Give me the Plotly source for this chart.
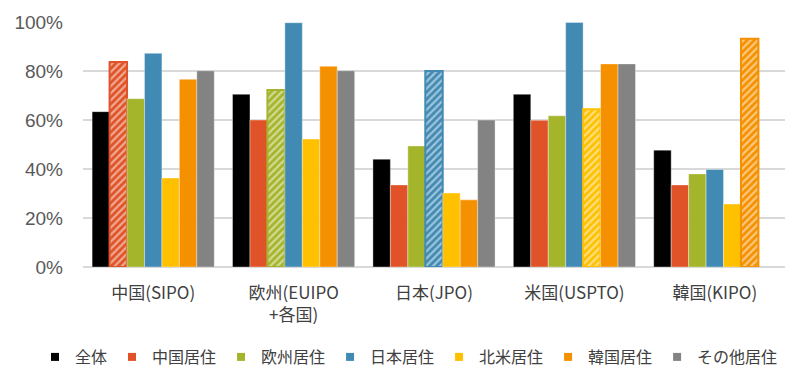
import plotly.graph_objects as go

categories = ["中国(SIPO)", "欧州(EUIPO<br>+各国)", "日本(JPO)", "米国(USPTO)", "韓国(KIPO)"]
series_names = ["全体", "中国居住", "欧州居住", "日本居住", "北米居住", "韓国居住", "その他居住"]
series_colors = ["#000000", "#E05328", "#A5B52B", "#418AB3", "#FFC000", "#F59100", "#838383"]

v_all = [63.4, 70.5, 44.0, 70.5, 47.7]
v_cn = [83.7, 60.0, 33.5, 59.9, 33.5]
v_eu = [68.7, 72.2, 49.4, 61.7, 38.0]
v_jp = [87.2, 99.7, 80.0, 99.8, 39.8]
v_na = [36.3, 52.2, 30.2, 64.4, 25.7]
v_kr = [76.6, 81.9, 27.4, 82.9, 93.2]
v_ot = [80.1, 80.1, 60.0, 82.9, None]
series_values = [v_all, v_cn, v_eu, v_jp, v_na, v_kr, v_ot]

# which office (category index) is the "home" office of each series -> hatched bar
home_office = [None, 0, 1, 2, 3, 4, None]

fig = go.Figure()
for name, color, vals, home in zip(series_names, series_colors, series_values, home_office):
    shapes = ["/" if i == home else "" for i in range(len(categories))]
    line_colors = [color if i == home else "rgba(255,255,255,0.6)" for i in range(len(categories))]
    line_widths = [2 if i == home else 0.6 for i in range(len(categories))]
    fig.add_trace(go.Bar(
        x=categories, y=vals, name=name, showlegend=False,
        marker=dict(
            color=color,
            line=dict(color=line_colors, width=line_widths),
            pattern=dict(shape=shapes, fgcolor="white", bgcolor=color, size=5, solidity=0.45),
        ),
    ))

# legend entries (solid squares)
for name, color in zip(series_names, series_colors):
    fig.add_trace(go.Scatter(
        x=[None], y=[None], mode="markers", name=name,
        marker=dict(symbol="square", size=8, color=color),
    ))

fig.update_layout(
    width=791, height=368,
    margin=dict(l=83, r=6, t=22, b=101, autoexpand=False),
    paper_bgcolor="white", plot_bgcolor="white",
    barmode="group", bargap=0.13, bargroupgap=0,
    font=dict(family="Noto Sans CJK JP, Liberation Sans, Arial", color="#404040"),
    showlegend=True,
    legend=dict(
        orientation="h", x=(35 - 83) / 702, xanchor="left",
        y=-(357 - 267) / 245, yanchor="middle",
        font=dict(size=16, color="#404040"),
        itemwidth=30, tracegroupgap=0, traceorder="normal",
        bgcolor="rgba(0,0,0,0)",
    ),
    xaxis=dict(
        showgrid=False, showline=False, ticks="", automargin=False,
        tickfont=dict(size=17, color="#404040"),
        ticklabelstandoff=14,
    ),
    yaxis=dict(
        range=[0, 100], dtick=20, ticksuffix="%", automargin=False,
        showgrid=True, gridcolor="#D9D9D9", gridwidth=1.5,
        zeroline=True, zerolinecolor="#D9D9D9", zerolinewidth=1.5,
        showline=False, ticks="",
        tickfont=dict(size=19, color="#595959", family="Liberation Sans, Arial"),
        ticklabelstandoff=19,
    ),
)

fig.write_html(
    "out.html",
    config={"displayModeBar": False},
    post_script="document.body.style.margin='0';document.body.style.overflow='hidden';",
)
